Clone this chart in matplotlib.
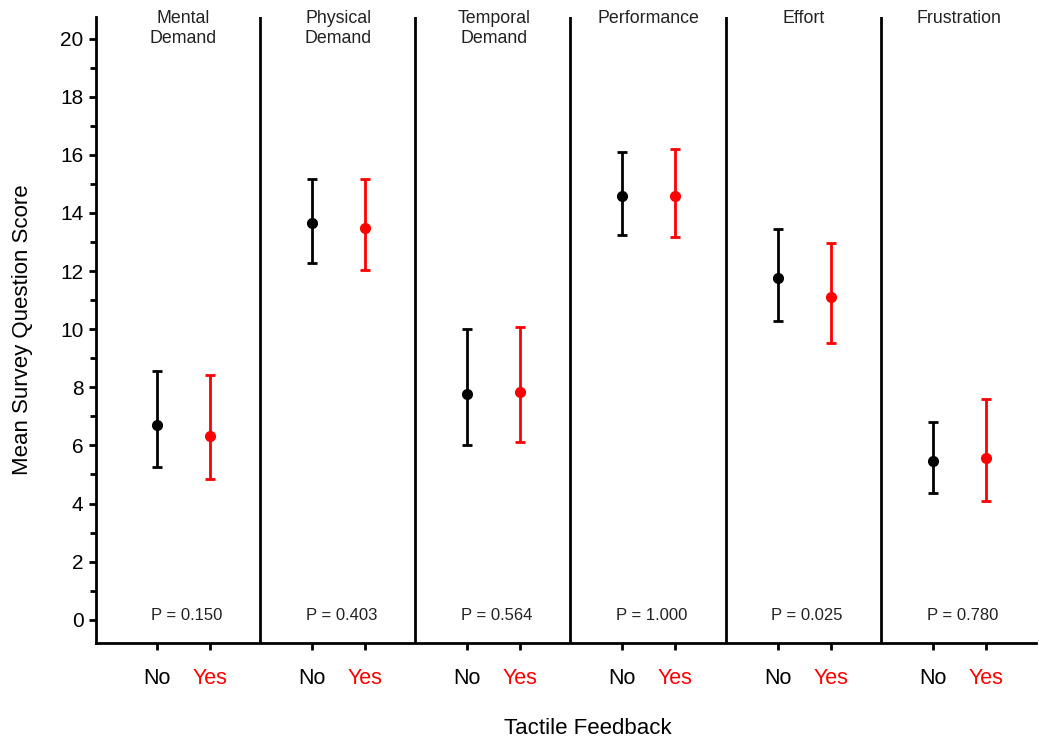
import matplotlib.pyplot as plt
import numpy as np

plt.rcParams['font.family'] = ['Liberation Sans', 'DejaVu Sans']

# panel titles and p-values
categories = ['Mental\nDemand', 'Physical\nDemand', 'Temporal\nDemand',
              'Performance', 'Effort', 'Frustration']
p_values = ['P = 0.150', 'P = 0.403', 'P = 0.564', 'P = 1.000', 'P = 0.025', 'P = 0.780']

# tactile feedback: No
no_mean = [6.71, 13.65, 7.77, 14.59, 11.75, 5.45]
no_low = [5.27, 12.27, 6.02, 13.23, 10.29, 4.36]
no_high = [8.57, 15.16, 10.01, 16.08, 13.44, 6.82]

# tactile feedback: Yes
yes_mean = [6.33, 13.47, 7.85, 14.59, 11.10, 5.56]
yes_low = [4.85, 12.04, 6.10, 13.16, 9.52, 4.07]
yes_high = [8.43, 15.16, 10.07, 16.20, 12.96, 7.60]

group_labels = ['No', 'Yes']
RED = '#ff0000'

fig = plt.figure(figsize=(10.39, 7.40), dpi=100)
ax = fig.add_axes([96 / 1039, 97 / 740, 940 / 1039, 626 / 740])

n = len(categories)
idx = np.arange(n)
x_no = idx + 0.335
x_yes = idx + 0.677

no_mean = np.array(no_mean)
yes_mean = np.array(yes_mean)
no_err = [no_mean - np.array(no_low), np.array(no_high) - no_mean]
yes_err = [yes_mean - np.array(yes_low), np.array(yes_high) - yes_mean]

ax.errorbar(x_no, no_mean, yerr=no_err, fmt='o', color='black', ms=7,
            elinewidth=2, capsize=3.6, capthick=2, zorder=3)
ax.errorbar(x_yes, yes_mean, yerr=yes_err, fmt='o', color=RED, ms=7,
            elinewidth=2, capsize=3.6, capthick=2, zorder=3)

# panel separators
for k in range(1, n):
    ax.axvline(k, color='black', lw=2)

for i in range(n):
    mid = (x_no[i] + x_yes[i]) / 2
    ax.text(mid, 20.98, categories[i], ha='center', va='top', fontsize=12.8,
            color='#222222', linespacing=1.2, clip_on=False)
    ax.text(mid + 0.02, 0.13, p_values[i], ha='center', va='center',
            fontsize=12, color='#222222')

ax.set_xlim(-0.056, 6.0)
ax.set_ylim(-0.8, 20.74)

ax.set_yticks(np.arange(0, 21, 2))
ax.set_yticks(np.arange(0, 21, 1), minor=True)
ax.tick_params(axis='y', which='major', length=5, width=2, labelsize=15, pad=4)
ax.tick_params(axis='y', which='minor', length=4, width=2)

xt = np.concatenate([x_no, x_yes])
xl = [group_labels[0]] * n + [group_labels[1]] * n
ax.set_xticks(xt)
ax.set_xticklabels(xl)
ax.tick_params(axis='x', length=5, width=2, labelsize=15.5, pad=13)
for j, lab in enumerate(ax.get_xticklabels()):
    if j >= n:
        lab.set_color(RED)
for j, t in enumerate(ax.xaxis.get_major_ticks()):
    if j >= n:
        t.tick1line.set_color(RED)

for s in ['top', 'right']:
    ax.spines[s].set_visible(False)
for s in ['left', 'bottom']:
    ax.spines[s].set_linewidth(2)

ax.set_ylabel('Mean Survey Question Score', fontsize=16)
ax.yaxis.set_label_coords(-63 / 940, 0.5)
ax.set_xlabel('Tactile Feedback', fontsize=16)
ax.xaxis.set_label_coords((588 - 96) / 940, -0.12)

fig.savefig('out.png', dpi=100)
